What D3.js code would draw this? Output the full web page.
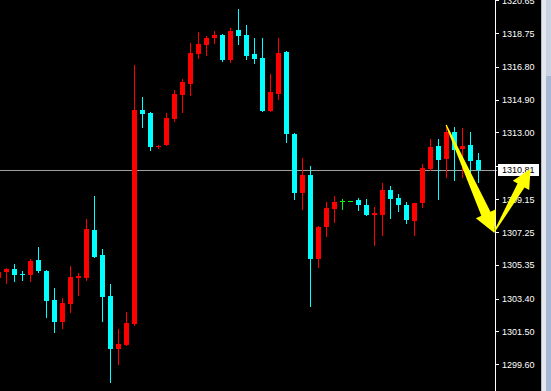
<!DOCTYPE html>
<html lang="en">
<head>
<meta charset="UTF-8">
<title>Candles</title>
<script src="https://d3js.org/d3.v7.min.js"></script>
<style>
  body { margin: 0; padding: 0; background: #000; }
  svg { display: block; }
  .axis text { font-family: 'Liberation Sans', Arial, sans-serif; font-size: 9px; fill: #fff; }
</style>
</head>
<body>
<script>
// bar data, first bar is index -1 (cut at left edge)
const firstIndex = -1;
const opens  = [1304.61,1304.95,1305.13,1304.82,1304.76,1305.63,1304.99,1303.32,1302.05,1303.09,1304.59,1304.59,1307.36,1305.92,1303.55,1300.49,1300.72,1301.93,1314.30,1314.12,1312.16,1312.27,1313.78,1315.16,1315.80,1317.53,1318.05,1318.45,1318.63,1317.18,1318.92,1318.63,1317.53,1317.30,1314.24,1315.22,1317.65,1312.91,1309.50,1310.54,1305.69,1307.54,1308.58,1309.04,1309.04,1309.10,1308.81,1308.23,1308.23,1309.67,1309.21,1308.81,1307.90,1308.91,1310.87,1312.23,1311.46,1313.01,1312.04,1312.27,1311.41];
const highs  = [1305.05,1305.18,1305.40,1304.99,1305.69,1306.38,1305.05,1304.01,1303.43,1305.28,1304.88,1308.00,1309.33,1306.27,1304.24,1301.64,1302.63,1316.89,1315.05,1314.18,1312.27,1314.12,1315.45,1316.09,1318.17,1318.80,1318.57,1318.86,1318.69,1319.03,1320.13,1319.21,1318.45,1318.45,1316.38,1318.45,1317.70,1312.97,1311.52,1311.06,1307.59,1308.98,1309.33,1309.15,1309.04,1309.21,1309.15,1308.69,1310.08,1309.90,1309.44,1309.00,1308.94,1311.18,1312.64,1312.64,1313.43,1313.31,1313.27,1313.01,1311.79];
const lows   = [1304.47,1304.30,1304.43,1304.47,1304.42,1304.94,1302.34,1301.47,1301.70,1302.63,1303.61,1304.47,1305.80,1302.11,1298.58,1299.62,1300.72,1301.88,1313.31,1311.98,1312.10,1312.27,1313.66,1314.18,1315.16,1317.30,1317.47,1318.17,1317.13,1317.07,1318.11,1317.24,1317.01,1314.24,1314.24,1314.93,1312.45,1309.15,1308.58,1302.97,1305.23,1307.02,1307.82,1308.58,1309.04,1308.52,1308.23,1306.50,1307.07,1308.06,1308.46,1307.78,1307.07,1308.71,1310.83,1309.15,1310.44,1310.25,1310.44,1309.92,1310.15];
const closes = [1304.94,1305.13,1304.76,1304.80,1305.57,1304.99,1303.26,1302.05,1303.15,1304.65,1304.71,1307.42,1305.80,1303.49,1300.49,1300.78,1301.99,1314.30,1314.06,1312.16,1312.22,1313.83,1315.22,1315.91,1317.59,1318.11,1318.45,1318.63,1317.18,1318.86,1318.57,1317.41,1317.24,1314.24,1315.34,1317.59,1312.91,1309.50,1310.54,1305.69,1307.54,1308.63,1308.98,1309.04,1309.04,1308.81,1308.23,1308.34,1309.67,1309.15,1308.81,1307.94,1308.94,1310.93,1312.14,1311.41,1313.01,1311.98,1312.23,1311.35,1310.81];

const tickValues = [1320.65,1318.75,1316.80,1314.90,1313.00,1311.05,1309.15,1307.25,1305.35,1303.40,1301.50,1299.60];
const tickLabels = ["1320.65","1318.75","1316.80","1314.90","1313.00","1311.05","1309.15","1307.25","1305.35","1303.40","1301.50","1299.60"];

const currentPrice = 1310.81;

// hand drawn arrows, in [bar index, price]
const arrows = [
  { from: [55.02, 1313.43], to: [61.06, 1307.19], shaft: 10, headL: 21, headW: 22 },
  { from: [61.06, 1307.27], to: [65.56, 1310.89], shaft: 8, headL: 19, headW: 19 }
];

const width = 551, height = 391;
const axisX = 495;

const svg = d3.select("body").append("svg")
  .attr("width", width)
  .attr("height", height);

svg.append("rect").attr("width", width).attr("height", height).attr("fill", "#000");

const x = d3.scaleLinear().domain([0, 59]).range([6, 478]);
const y = d3.scaleLinear().domain([1299.60, 1320.65]).range([364.3, 0]);

const bars = opens.map((o, i) => ({
  i: i + firstIndex, o: o, h: highs[i], l: lows[i], c: closes[i]
}));

const colorOf = d => d.o === d.c ? "#00ff00" : (d.c > d.o ? "#ff0000" : "#00ffff");

const plot = svg.append("g").attr("shape-rendering", "crispEdges");

// price line
plot.append("line")
  .attr("x1", 0).attr("x2", axisX + 2)
  .attr("y1", Math.round(y(currentPrice)) + 0.5)
  .attr("y2", Math.round(y(currentPrice)) + 0.5)
  .attr("stroke", "#a0a0a0");

const g = plot.selectAll(".bar").data(bars).enter().append("g").attr("class", "bar");

// wicks
g.filter(d => d.h !== d.l).append("rect")
  .attr("x", d => Math.round(x(d.i)))
  .attr("y", d => Math.round(y(d.h)))
  .attr("width", 1)
  .attr("height", d => Math.round(y(d.l)) - Math.round(y(d.h)) + 1)
  .attr("fill", colorOf);

// bodies
g.append("rect")
  .attr("x", d => Math.round(x(d.i)) - 2)
  .attr("y", d => Math.round(y(Math.max(d.o, d.c))))
  .attr("width", 5)
  .attr("height", d => Math.max(1, Math.round(y(Math.min(d.o, d.c))) - Math.round(y(Math.max(d.o, d.c)))))
  .attr("fill", colorOf);

// price axis
const axis = svg.append("g")
  .attr("class", "axis")
  .attr("transform", `translate(${axisX},0)`)
  .call(d3.axisRight(y).tickValues(tickValues).tickSize(4).tickPadding(3)
    .tickFormat((d, i) => tickLabels[i]));
axis.select(".domain").remove();
axis.selectAll(".tick line").attr("stroke", "#fff").attr("shape-rendering", "crispEdges");
axis.selectAll(".tick text").attr("dy", "0.35em");

svg.append("line")
  .attr("x1", axisX + 0.5).attr("x2", axisX + 0.5)
  .attr("y1", 0).attr("y2", height)
  .attr("stroke", "#fff")
  .attr("shape-rendering", "crispEdges");

// current price label
const py = Math.round(y(currentPrice));
svg.append("rect")
  .attr("x", 498).attr("y", py - 6)
  .attr("width", 41).attr("height", 12)
  .attr("fill", "#fff")
  .attr("shape-rendering", "crispEdges");
svg.append("text")
  .attr("x", 502).attr("y", py)
  .attr("dy", "0.35em")
  .style("font-family", "'Liberation Sans', Arial, sans-serif")
  .style("font-size", "9px")
  .attr("fill", "#000")
  .text(currentPrice.toFixed(2));

// scrollbar on the right edge
svg.append("rect").attr("x", 541).attr("y", 0).attr("width", 10).attr("height", height)
  .attr("fill", "#e4e8ee").attr("shape-rendering", "crispEdges");
svg.append("rect").attr("x", 541).attr("y", 0).attr("width", 1).attr("height", height)
  .attr("fill", "#b8bcc4").attr("shape-rendering", "crispEdges");
svg.append("rect").attr("x", 546).attr("y", 0).attr("width", 5).attr("height", height)
  .attr("fill", "#c9d4e2").attr("shape-rendering", "crispEdges");
svg.append("rect").attr("x", 546).attr("y", 76).attr("width", 5).attr("height", height - 76)
  .attr("fill", "#a6b8d2").attr("shape-rendering", "crispEdges");

// arrows
function arrowPoints(a) {
  const x0 = x(a.from[0]), y0 = y(a.from[1]);
  const x1 = x(a.to[0]), y1 = y(a.to[1]);
  const dx = x1 - x0, dy = y1 - y0;
  const len = Math.hypot(dx, dy);
  const ux = dx / len, uy = dy / len;
  const nx = -uy, ny = ux;
  const bx = x1 - ux * a.headL, by = y1 - uy * a.headL;
  return [
    [x0 + nx * 0.6, y0 + ny * 0.6],
    [bx + nx * a.shaft / 2, by + ny * a.shaft / 2],
    [bx + nx * a.headW / 2, by + ny * a.headW / 2],
    [x1, y1],
    [bx - nx * a.headW / 2, by - ny * a.headW / 2],
    [bx - nx * a.shaft / 2, by - ny * a.shaft / 2],
    [x0 - nx * 0.6, y0 - ny * 0.6]
  ];
}

svg.selectAll(".arrow").data(arrows).enter().append("polygon")
  .attr("class", "arrow")
  .attr("points", d => arrowPoints(d).map(p => p.join(",")).join(" "))
  .attr("fill", "#ffff00");
</script>
</body>
</html>
